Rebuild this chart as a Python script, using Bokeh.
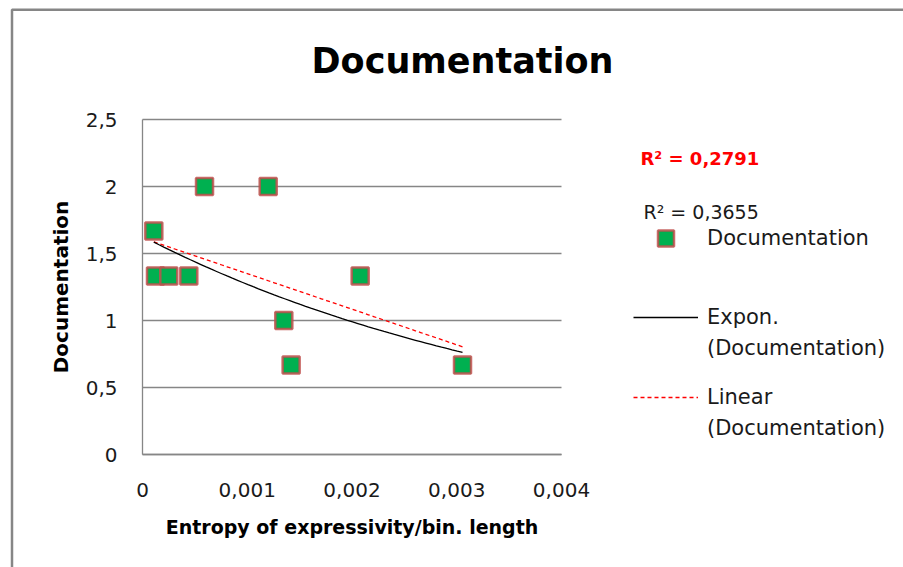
import numpy as np
from bokeh.plotting import figure
from bokeh.models import (Legend, LegendItem, Label, FixedTicker, Grid,
                          CustomJSTickFormatter, BoxAnnotation, ColumnDataSource)
from bokeh.embed import file_html
from bokeh.resources import INLINE

# ---- data ----
x_vals = [0.000108, 0.000124, 0.000251, 0.000442, 0.000592, 0.00120, 0.001349, 0.001419, 0.002078, 0.003055]
y_vals = [1.667, 1.333, 1.333, 1.333, 2.0, 2.0, 1.0, 0.667, 1.333, 0.667]
x_ticks = [0, 0.001, 0.002, 0.003, 0.004]
y_ticks = [0, 0.5, 1, 1.5, 2, 2.5]
chart_title = "Documentation"
x_title = "Entropy of expressivity/bin. length"
y_title = "Documentation"
series_name = "Documentation"
expon_name = ["Expon.", "(Documentation)"]
linear_name = ["Linear", "(Documentation)"]
r2_linear_text = "R² = 0,2791"
r2_expon_text = "R² = 0,3655"

FONT = "DejaVu Sans"
W, H = 903, 567
# plot-area placement (pixels) within the canvas
PL, PR, PT, PB = 142, 561, 119, 454
x_lo, x_hi = x_ticks[0], x_ticks[-1]
y_lo, y_hi = y_ticks[0], y_ticks[-1]
sx = (PR - PL) / (x_hi - x_lo)
sy = (PB - PT) / (y_hi - y_lo)
x_range = (x_lo - PL / sx, x_hi + (W - PR) / sx)
y_range = (y_lo - (H - PB) / sy, y_hi + PT / sy)

# ---- trend lines fitted from the data ----
xa = np.array(x_vals)
ya = np.array(y_vals)
lin_b, lin_a = np.polyfit(xa, ya, 1)
exp_b, exp_lna = np.polyfit(xa, np.log(ya), 1)
xt = np.linspace(xa.min(), xa.max(), 60)
lin_y = lin_a + lin_b * xt
exp_y = np.exp(exp_lna) * np.exp(exp_b * xt)

p = figure(width=W, height=H, x_range=x_range, y_range=y_range,
           output_backend="svg", toolbar_location=None, min_border=0)
p.outline_line_color = None
p.background_fill_color = "white"
p.border_fill_color = "white"

fmt = CustomJSTickFormatter(code="return String(parseFloat(tick.toFixed(6))).replace('.', ',');")
p.xaxis.ticker = FixedTicker(ticks=x_ticks)
p.yaxis.ticker = FixedTicker(ticks=y_ticks)
p.xaxis.fixed_location = y_lo
p.yaxis.fixed_location = x_lo
p.xaxis.bounds = (x_lo, x_hi)
p.yaxis.bounds = (y_lo, y_hi)
for ax in (p.xaxis[0], p.yaxis[0]):
    ax.formatter = fmt
    ax.axis_line_color = "#868686"
    ax.axis_line_width = 1.3
    ax.major_tick_line_color = None
    ax.minor_tick_line_color = None
    ax.major_label_text_font = FONT
    ax.major_label_text_font_size = "20px"
    ax.major_label_text_color = "#1a1a1a"
    ax.axis_label_text_font = FONT
    ax.axis_label_text_font_style = "bold"
    ax.axis_label_text_color = "#000000"

p.xaxis.major_label_standoff = 22
p.yaxis.major_label_standoff = 19
p.xaxis.axis_label = x_title
p.xaxis.axis_label_text_font_size = "19px"
p.xaxis.axis_label_standoff = 16
p.yaxis.axis_label = y_title
p.yaxis.axis_label_text_font_size = "20px"
p.yaxis.axis_label_standoff = 10

p.xgrid.visible = False
p.ygrid.grid_line_color = "#868686"
p.ygrid.grid_line_width = 1.3
if "cross_bounds" in Grid.properties():
    p.ygrid.bounds = (y_lo, y_hi)
    p.ygrid.cross_bounds = (x_lo, x_hi)
else:
    p.ygrid.visible = False
    p.segment(x0=[x_lo] * len(y_ticks), x1=[x_hi] * len(y_ticks), y0=y_ticks, y1=y_ticks,
              line_color="#868686", line_width=1.3)

# ---- glyphs ----
r_lin = p.line(xt, lin_y, line_color="#FF0000", line_width=1.3, line_dash="4 3")
r_exp = p.line(xt, exp_y, line_color="#000000", line_width=1.3)
src = ColumnDataSource(dict(x=x_vals, y=y_vals))
r_pts = p.scatter("x", "y", source=src, marker="square", size=17,
                  fill_color="#00B050", line_color="#C0504D", line_width=2.5, line_alpha=0.85)
r_blank = p.line([], [], line_alpha=0)

def mk_legend(items, loc, gh, lh):
    lg = Legend(items=items, location=loc, glyph_width=65, glyph_height=gh,
                label_height=lh, label_standoff=9, padding=0, margin=0, spacing=1,
                border_line_color=None, background_fill_alpha=0,
                label_text_font=FONT, label_text_font_size="21px",
                label_text_color="#1a1a1a")
    p.add_layout(lg)
    return lg

mk_legend([LegendItem(label=series_name, renderers=[r_pts])], (633, H - 258), 40, 40)
mk_legend([LegendItem(label=expon_name[0], renderers=[r_exp]),
           LegendItem(label=expon_name[1], renderers=[r_blank])], (633, H - 363), 20, 30)
mk_legend([LegendItem(label=linear_name[0], renderers=[r_lin]),
           LegendItem(label=linear_name[1], renderers=[r_blank])], (633, H - 443), 20, 30)

# ---- texts ----
p.add_layout(Label(x=462, y=H - 60, x_units="screen", y_units="screen", text=chart_title,
                   text_font=FONT, text_font_style="bold", text_font_size="35px",
                   text_align="center", text_baseline="middle", text_color="#000000"))
p.add_layout(Label(x=640, y=H - 158, x_units="screen", y_units="screen", text=r2_linear_text,
                   text_font=FONT, text_font_style="bold", text_font_size="18px",
                   text_baseline="middle", text_color="#FF0000"))
p.add_layout(Label(x=643, y=H - 211, x_units="screen", y_units="screen", text=r2_expon_text,
                   text_font=FONT, text_font_size="19px",
                   text_baseline="middle", text_color="#1a1a1a"))

# ---- outer chart border ----
p.add_layout(BoxAnnotation(left=11.5, right=2000, top=H - 9.3, bottom=-2000,
                           left_units="screen", right_units="screen",
                           top_units="screen", bottom_units="screen",
                           fill_alpha=0, line_color="#868686", line_alpha=1.0,
                           line_width=2.5))

open("out.html", "w").write(file_html(p, INLINE))
